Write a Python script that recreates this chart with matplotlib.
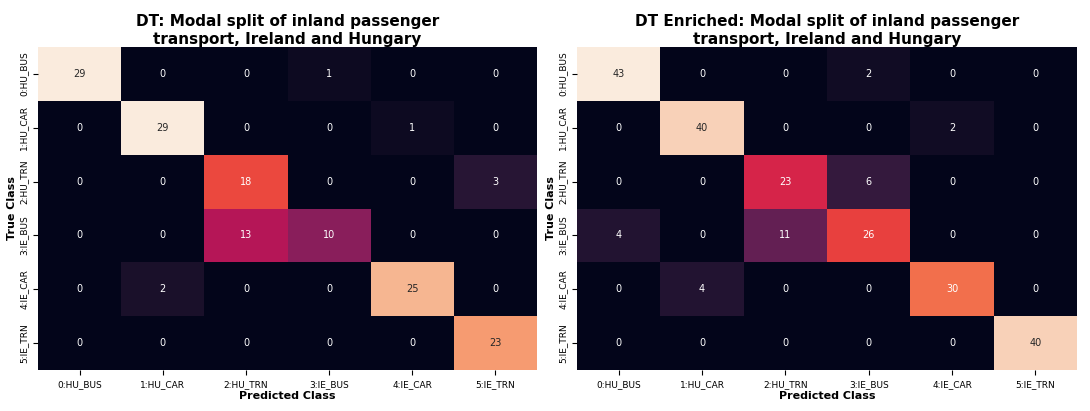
import matplotlib
matplotlib.use("Agg")
import matplotlib.pyplot as plt
import seaborn as sns
import numpy as np

labels = ["0:HU_BUS", "1:HU_CAR", "2:HU_TRN", "3:IE_BUS", "4:IE_CAR", "5:IE_TRN"]
cm_dt = [
    [29, 0, 0, 1, 0, 0],
    [0, 29, 0, 0, 1, 0],
    [0, 0, 18, 0, 0, 3],
    [0, 0, 13, 10, 0, 0],
    [0, 2, 0, 0, 25, 0],
    [0, 0, 0, 0, 0, 23],
]
cm_enriched = [
    [43, 0, 0, 2, 0, 0],
    [0, 40, 0, 0, 2, 0],
    [0, 0, 23, 6, 0, 0],
    [4, 0, 11, 26, 0, 0],
    [0, 4, 0, 0, 30, 0],
    [0, 0, 0, 0, 0, 40],
]
titles = ["DT: Modal split of inland passenger\ntransport, Ireland and Hungary",
          "DT Enriched: Modal split of inland passenger\ntransport, Ireland and Hungary"]

fig = plt.figure(figsize=(10.9, 4.11), dpi=100)
ax1 = fig.add_axes([0.0349, 0.0998, 0.4578, 0.7858])
ax2 = fig.add_axes([0.5294, 0.0998, 0.4587, 0.7858])

for ax, cm, title in zip([ax1, ax2], [cm_dt, cm_enriched], titles):
    sns.heatmap(np.array(cm), annot=True, fmt="d", cmap="rocket", cbar=False,
                xticklabels=labels, yticklabels=labels, ax=ax,
                annot_kws={"fontsize": 7})
    ax.set_title(title, fontsize=11, fontweight="bold", pad=2, linespacing=1.25)
    ax.set_xlabel("Predicted Class", fontsize=8, fontweight="bold", labelpad=2)
    ax.set_ylabel("True Class", fontsize=8, fontweight="bold", labelpad=2)
    ax.tick_params(labelsize=6.5)
    plt.setp(ax.get_yticklabels(), rotation=90, va="center")
    plt.setp(ax.get_xticklabels(), rotation=0)

fig.savefig("out.png", dpi=100)
